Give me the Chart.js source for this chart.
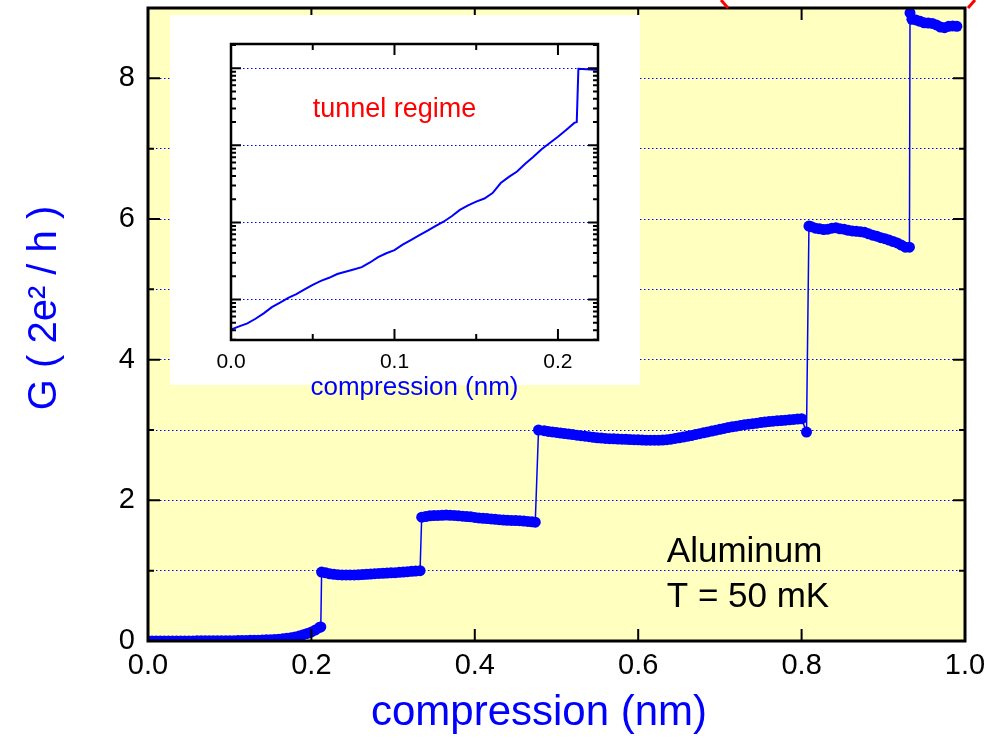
<!DOCTYPE html>
<html>
<head>
<meta charset="utf-8">
<script src="https://cdn.jsdelivr.net/npm/chart.js@4.4.0/dist/chart.umd.min.js"></script>
<style>
  html, body { margin: 0; padding: 0; background: #fff; }
  #wrap { position: relative; width: 994px; height: 738px; overflow: hidden; }
  #main { position: absolute; left: 0; top: 0; }
  #insetBox { position: absolute; left: 170px; top: 15px; width: 470px; height: 370px; background: #fff; }
  #inset { position: absolute; left: 170px; top: 15px; }
</style>
</head>
<body>
<div id="wrap">
  <canvas id="main" width="994" height="738"></canvas>
  <div id="insetBox"></div>
  <canvas id="inset" width="470" height="400"></canvas>
</div>
<script>
// tunnel part of the trace
const tunnelCompression = [
  0, 0.005, 0.01, 0.015, 0.02, 0.025, 0.03, 0.035, 0.04, 0.045, 0.05, 0.055, 0.06, 0.065, 0.07, 0.075, 0.08, 0.085, 0.09, 0.095, 0.10,
  0.105, 0.11, 0.115, 0.12, 0.125, 0.13, 0.135, 0.14, 0.145, 0.15, 0.155, 0.16, 0.165, 0.17, 0.175, 0.18, 0.185, 0.19, 0.195, 0.20,
  0.205, 0.21, 0.2115
];
const tunnelConductance = [
  4.07e-4, 4.47e-4, 4.90e-4, 5.62e-4, 6.61e-4, 7.94e-4, 9.12e-4, 1.05e-3, 1.17e-3, 1.35e-3, 1.55e-3, 1.74e-3, 1.91e-3, 2.14e-3, 2.29e-3, 2.45e-3, 2.63e-3, 3.02e-3, 3.55e-3, 3.98e-3, 4.37e-3,
  5.13e-3, 5.89e-3, 6.76e-3, 7.76e-3, 8.91e-3, 1.02e-2, 1.20e-2, 1.45e-2, 1.66e-2, 1.86e-2, 2.04e-2, 2.40e-2, 3.24e-2, 3.89e-2, 4.57e-2, 5.75e-2, 7.08e-2, 8.91e-2, 0.107, 0.129,
  0.158, 0.195, 0.2
];

// contact part: conductance plateaus
const plateauCompression = [
  0.2125, 0.2175, 0.2225, 0.2275, 0.2325, 0.2375, 0.2425, 0.2475, 0.2525, 0.2575, 0.2625, 0.2675, 0.2725, 0.2775, 0.2825, 0.2875, 0.2925, 0.2975, 0.3025, 0.3075, 0.3125, 0.3175, 0.3225, 0.3275, 0.333,
  0.335, 0.34, 0.345, 0.35, 0.355, 0.36, 0.365, 0.37, 0.375, 0.38, 0.385, 0.39, 0.395, 0.40, 0.405, 0.41, 0.415, 0.42, 0.425, 0.43, 0.435, 0.44, 0.445, 0.45, 0.455, 0.46, 0.465, 0.47, 0.474,
  0.478, 0.485, 0.49, 0.495, 0.50, 0.505, 0.51, 0.515, 0.52, 0.525, 0.53, 0.535, 0.54, 0.545, 0.55, 0.555, 0.56, 0.565, 0.57, 0.575, 0.58, 0.585, 0.59, 0.595, 0.60,
  0.605, 0.61, 0.615, 0.62, 0.625, 0.63, 0.635, 0.64, 0.645, 0.65, 0.655, 0.66, 0.665, 0.67, 0.675, 0.68, 0.685, 0.69, 0.695, 0.70,
  0.705, 0.71, 0.715, 0.72, 0.725, 0.73, 0.735, 0.74, 0.745, 0.75, 0.755, 0.76, 0.765, 0.77, 0.775, 0.78, 0.785, 0.79, 0.795, 0.80, 0.806,
  0.809, 0.812, 0.817, 0.822, 0.827, 0.832, 0.837, 0.842, 0.847, 0.852, 0.857, 0.862, 0.867, 0.872, 0.877, 0.882, 0.887, 0.892, 0.897, 0.902, 0.907, 0.912, 0.917, 0.922, 0.927, 0.932,
  0.9327, 0.935, 0.94, 0.945, 0.95, 0.955, 0.96, 0.965, 0.97, 0.975, 0.98, 0.985, 0.99
];
const plateauConductance = [
  0.98, 0.97, 0.955, 0.948, 0.943, 0.94, 0.94, 0.94, 0.94, 0.942, 0.945, 0.948, 0.952, 0.957, 0.96, 0.963, 0.966, 0.969, 0.972, 0.976, 0.98, 0.985, 0.99, 0.994, 1.0,
  1.76, 1.77, 1.78, 1.783, 1.786, 1.788, 1.79, 1.788, 1.785, 1.78, 1.775, 1.77, 1.765, 1.757, 1.75, 1.745, 1.74, 1.735, 1.73, 1.725, 1.72, 1.717, 1.715, 1.712, 1.71, 1.705, 1.70, 1.695, 1.69,
  3.0, 2.99, 2.98, 2.972, 2.965, 2.957, 2.95, 2.942, 2.935, 2.927, 2.92, 2.912, 2.905, 2.897, 2.89, 2.885, 2.88, 2.877, 2.875, 2.872, 2.87, 2.867, 2.865, 2.862, 2.86,
  2.857, 2.855, 2.855, 2.855, 2.855, 2.857, 2.862, 2.87, 2.88, 2.89, 2.9, 2.91, 2.922, 2.935, 2.947, 2.96, 2.972, 2.985, 2.997, 3.01,
  3.022, 3.035, 3.045, 3.055, 3.065, 3.075, 3.082, 3.09, 3.097, 3.105, 3.112, 3.12, 3.125, 3.13, 3.135, 3.14, 3.145, 3.15, 3.155, 3.16, 2.97,
  5.9, 5.89, 5.87, 5.86, 5.85, 5.855, 5.87, 5.875, 5.86, 5.855, 5.84, 5.83, 5.825, 5.82, 5.81, 5.79, 5.77, 5.755, 5.735, 5.72, 5.70, 5.68, 5.66, 5.63, 5.60, 5.60,
  8.93, 8.84, 8.83, 8.81, 8.79, 8.785, 8.78, 8.76, 8.73, 8.72, 8.74, 8.745, 8.74
];

const xTicks = [0, 0.2, 0.4, 0.6, 0.8, 1.0];
const yTicks = [0, 1, 2, 3, 4, 5, 6, 7, 8, 9];
const insetXLabels = [0, 0.1, 0.2];
const insetXTicks = [0, 0.05, 0.1, 0.15, 0.2];
const insetDecades = [0.001, 0.01, 0.1, 1];

const FONT = '"Liberation Sans", Arial, Helvetica, sans-serif';
const BLUE = '#0000FF';

const trace = tunnelCompression.concat(plateauCompression).map((c, i) => ({
  x: c,
  y: tunnelConductance.concat(plateauConductance)[i]
}));

const mainFrame = {
  id: 'mainFrame',
  beforeDraw(chart) {
    const {ctx, chartArea: a} = chart;
    ctx.save();
    ctx.fillStyle = '#FFFFC0';
    ctx.fillRect(a.left, a.top, a.right - a.left, a.bottom - a.top);
    ctx.restore();
  },
  afterDraw(chart) {
    const {ctx, chartArea: a} = chart;
    const x = chart.scales.x, y = chart.scales.y;
    ctx.save();
    ctx.strokeStyle = '#000';
    ctx.lineWidth = 2;
    ctx.beginPath();
    xTicks.forEach(v => {
      const px = x.getPixelForValue(v);
      ctx.moveTo(px, a.bottom); ctx.lineTo(px, a.bottom - 12);
      ctx.moveTo(px, a.top); ctx.lineTo(px, a.top + 12);
    });
    yTicks.forEach(v => {
      const py = y.getPixelForValue(v);
      const len = v % 2 === 0 ? 12 : 6;
      ctx.moveTo(a.left, py); ctx.lineTo(a.left + len, py);
      ctx.moveTo(a.right, py); ctx.lineTo(a.right - len, py);
    });
    ctx.stroke();
    ctx.lineWidth = 3;
    ctx.strokeRect(a.left, a.top, a.right - a.left, a.bottom - a.top);

    ctx.fillStyle = '#000';
    ctx.font = '35px ' + FONT;
    ctx.textAlign = 'left';
    ctx.textBaseline = 'alphabetic';
    ctx.fillText('Aluminum', x.getPixelForValue(0.635), y.getPixelForValue(1.12));
    ctx.fillText('T = 50 mK', x.getPixelForValue(0.635), y.getPixelForValue(0.48));

    // axis titles (placed like the original, a bit off the frame centre)
    ctx.fillStyle = BLUE;
    ctx.textAlign = 'center';
    ctx.textBaseline = 'middle';
    ctx.font = '42px ' + FONT;
    ctx.fillText('compression (nm)', 539, 713);
    ctx.save();
    ctx.translate(45, 308);
    ctx.rotate(-Math.PI / 2);
    ctx.font = '40px ' + FONT;
    ctx.fillText('G ( 2e² / h )', 0, 0);
    ctx.restore();

    // bits of a red label cut off above the frame
    ctx.strokeStyle = '#FF0000';
    ctx.lineWidth = 3;
    ctx.beginPath();
    ctx.moveTo(721, 0); ctx.lineTo(728, a.top);
    ctx.moveTo(968, a.top); ctx.lineTo(975, 0);
    ctx.stroke();
    ctx.restore();
  }
};

new Chart(document.getElementById('main'), {
  type: 'line',
  data: {
    datasets: [{
      data: trace,
      borderColor: BLUE,
      backgroundColor: BLUE,
      borderWidth: 1.5,
      pointRadius: 5.5,
      pointBorderWidth: 0,
      pointBackgroundColor: BLUE,
      tension: 0
    }]
  },
  options: {
    responsive: false,
    animation: false,
    layout: { padding: { left: 0, right: 29, top: 8, bottom: 0 } },
    plugins: { legend: { display: false }, tooltip: { enabled: false } },
    scales: {
      x: {
        type: 'linear', min: 0, max: 1,
        afterBuildTicks: s => { s.ticks = xTicks.map(v => ({value: v})); },
        afterFit: s => { s.height = 97; },
        grid: { display: false, drawTicks: false },
        border: { display: false },
        ticks: { color: '#000', padding: 8, font: { family: FONT, size: 29 }, callback: v => v.toFixed(1) },
        title: { display: false }
      },
      y: {
        type: 'linear', min: 0, max: 9,
        afterBuildTicks: s => { s.ticks = yTicks.map(v => ({value: v})); },
        afterFit: s => { s.width = 148; s.paddingTop = 0; s.paddingBottom = 0; },
        grid: {
          drawTicks: false,
          color: c => (c.tick && c.tick.value > 0 && c.tick.value < 9) ? BLUE : 'rgba(0,0,0,0)',
          lineWidth: 1
        },
        border: { display: false, dash: [1.5, 2.5] },
        ticks: { color: '#000', padding: 13, font: { family: FONT, size: 29 }, callback: v => (v % 2 === 0 && v < 9) ? String(v) : '' },
        title: { display: false }
      }
    }
  },
  plugins: [mainFrame]
});

const insetFrame = {
  id: 'insetFrame',
  afterDraw(chart) {
    const {ctx, chartArea: a} = chart;
    const x = chart.scales.x, y = chart.scales.y;
    ctx.save();
    ctx.strokeStyle = '#000';
    ctx.lineWidth = 2;
    ctx.beginPath();
    insetXTicks.forEach(v => {
      const px = x.getPixelForValue(v);
      const len = insetXLabels.includes(v) ? 11 : 6;
      ctx.moveTo(px, a.bottom); ctx.lineTo(px, a.bottom - len);
      ctx.moveTo(px, a.top); ctx.lineTo(px, a.top + len);
    });
    [1e-4, 1e-3, 1e-2, 1e-1, 1].forEach(d => {
      for (let m = 1; m <= 9; m++) {
        const v = m * d;
        if (v < y.min || v > y.max) continue;
        const py = y.getPixelForValue(v);
        const len = m === 1 ? 10 : 5;
        ctx.moveTo(a.left, py); ctx.lineTo(a.left + len, py);
        ctx.moveTo(a.right, py); ctx.lineTo(a.right - len, py);
      }
    });
    ctx.stroke();
    ctx.lineWidth = 2.5;
    ctx.strokeRect(a.left, a.top, a.right - a.left, a.bottom - a.top);

    ctx.fillStyle = '#FF0000';
    ctx.font = '27px ' + FONT;
    ctx.textAlign = 'left';
    ctx.textBaseline = 'alphabetic';
    ctx.fillText('tunnel regime', x.getPixelForValue(0.05), y.getPixelForValue(0.23));
    ctx.restore();
  }
};

new Chart(document.getElementById('inset'), {
  type: 'line',
  data: {
    datasets: [{
      data: trace,
      borderColor: BLUE,
      borderWidth: 2,
      pointRadius: 0,
      tension: 0
    }]
  },
  options: {
    responsive: false,
    animation: false,
    layout: { padding: { left: 0, right: 42, top: 29, bottom: 0 } },
    plugins: { legend: { display: false }, tooltip: { enabled: false } },
    scales: {
      x: {
        type: 'linear', min: 0, max: 0.2245,
        afterBuildTicks: s => { s.ticks = insetXLabels.map(v => ({value: v})); },
        afterFit: s => { s.height = 75; },
        grid: { display: false, drawTicks: false },
        border: { display: false },
        ticks: { color: '#000', padding: 10, font: { family: FONT, size: 21 }, callback: v => v.toFixed(1) },
        title: { display: true, text: 'compression (nm)', color: BLUE, font: { family: FONT, size: 26 }, padding: { top: 0, bottom: 12 } }
      },
      y: {
        type: 'logarithmic', min: 2.98e-4, max: 2.06,
        afterBuildTicks: s => { s.ticks = insetDecades.map(v => ({value: v})); },
        afterFit: s => { s.width = 61; },
        grid: { drawTicks: false, color: BLUE, lineWidth: 1 },
        border: { display: false, dash: [1.5, 2.5] },
        ticks: { display: false }
      }
    }
  },
  plugins: [insetFrame]
});
</script>
</body>
</html>
